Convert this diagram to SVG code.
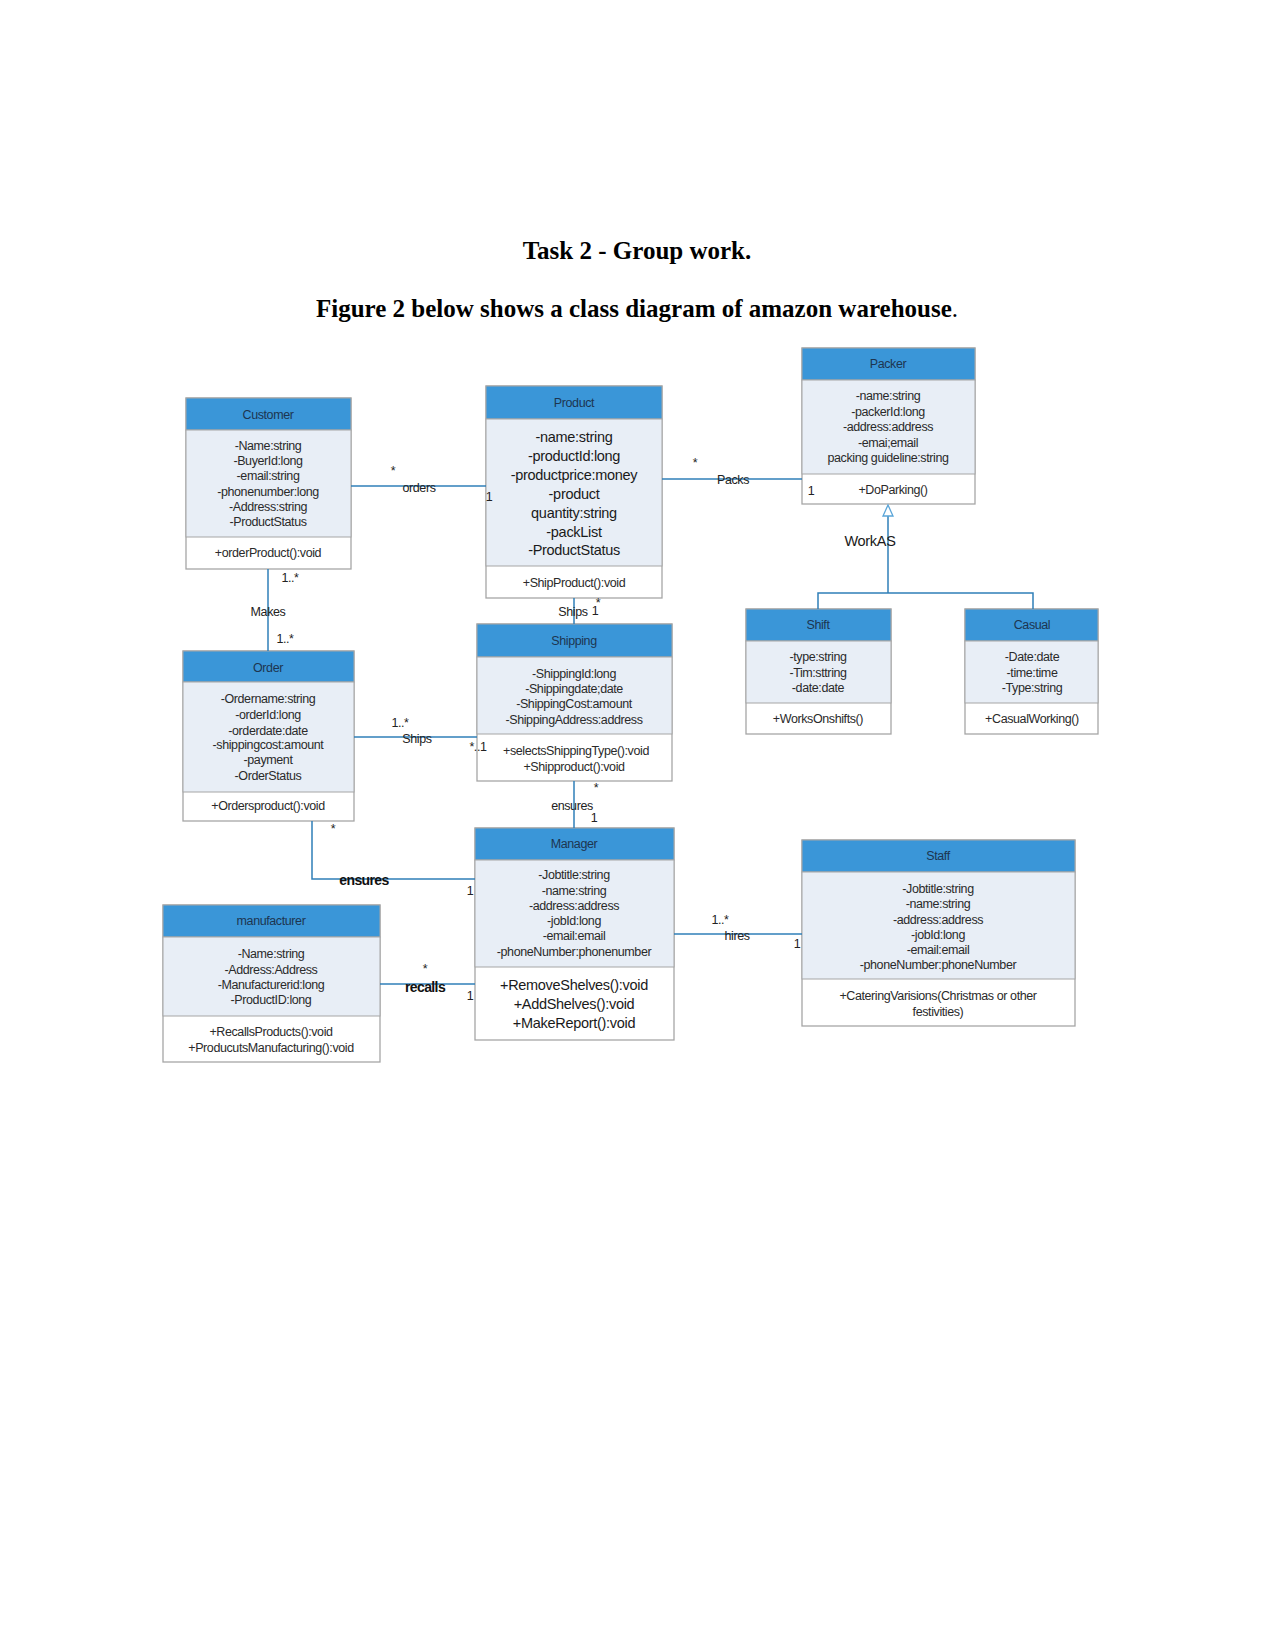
<svg xmlns="http://www.w3.org/2000/svg" width="1275" height="1651" viewBox="0 0 1275 1651">
<style>
.bg{fill:#ffffff}
.box{fill:#ffffff;stroke:#a6a6a6;stroke-width:1.3}
.hd{fill:#3a96d8;stroke:#a6a6a6;stroke-width:1}
.at{fill:#e8eef6;stroke:#a6a6a6;stroke-width:1}
.ht{font-family:"Liberation Sans",Arial,sans-serif;font-size:12.5px;fill:#1d3550;text-anchor:middle;letter-spacing:-0.4px}
.t{font-family:"Liberation Sans",Arial,sans-serif;font-size:12.5px;fill:#2a2a2a;text-anchor:middle;letter-spacing:-0.4px}
.tl{font-family:"Liberation Sans",Arial,sans-serif;font-size:14.5px;fill:#1a1a1a;text-anchor:middle;letter-spacing:-0.3px}
.ln{fill:none;stroke:#2f7fb8;stroke-width:1.5}
.lb{font-family:"Liberation Sans",Arial,sans-serif;font-size:12.5px;fill:#222222;text-anchor:middle;letter-spacing:-0.4px}
.lbb{font-family:"Liberation Sans",Arial,sans-serif;font-size:14px;fill:#111111;text-anchor:middle;font-weight:bold;letter-spacing:-0.6px}
.title{font-family:"Liberation Serif","Times New Roman",serif;font-size:25px;font-weight:bold;fill:#000000;text-anchor:middle}
</style>
<rect class="bg" x="0" y="0" width="1275" height="1651"/>
<g id="titles">
<text class="title" x="637" y="259">Task 2 - Group work.</text>
<text class="title" x="637" y="317">Figure 2 below shows a class diagram of amazon warehouse<tspan font-weight="normal">.</tspan></text>
</g>

<g id="customer">
<rect class="box" x="186" y="398" width="165" height="171"/>
<rect class="hd" x="186" y="398" width="165" height="32"/>
<rect class="at" x="186" y="430" width="165" height="107"/>
<text class="ht" x="268" y="419">Customer</text>
<text class="t" x="268" y="450">-Name:string</text>
<text class="t" x="268" y="465">-BuyerId:long</text>
<text class="t" x="268" y="480">-email:string</text>
<text class="t" x="268" y="496">-phonenumber:long</text>
<text class="t" x="268" y="511">-Address:string</text>
<text class="t" x="268" y="526">-ProductStatus</text>
<text class="t" x="268" y="557">+orderProduct():void</text>
</g>

<g id="product">
<rect class="box" x="486" y="386" width="176" height="212"/>
<rect class="hd" x="486" y="386" width="176" height="33"/>
<rect class="at" x="486" y="419" width="176" height="147"/>
<text class="ht" x="574" y="407">Product</text>
<text class="tl" x="574" y="442">-name:string</text>
<text class="tl" x="574" y="461">-productId:long</text>
<text class="tl" x="574" y="480">-productprice:money</text>
<text class="tl" x="574" y="499">-product</text>
<text class="tl" x="574" y="518">quantity:string</text>
<text class="tl" x="574" y="537">-packList</text>
<text class="tl" x="574" y="555">-ProductStatus</text>
<text class="t" x="574" y="587">+ShipProduct():void</text>
</g>

<g id="packer">
<rect class="box" x="802" y="348" width="173" height="156"/>
<rect class="hd" x="802" y="348" width="173" height="32"/>
<rect class="at" x="802" y="380" width="173" height="94"/>
<text class="ht" x="888" y="368">Packer</text>
<text class="t" x="888" y="400">-name:string</text>
<text class="t" x="888" y="416">-packerId:long</text>
<text class="t" x="888" y="431">-address:address</text>
<text class="t" x="888" y="447">-emai;email</text>
<text class="t" x="888" y="462">packing guideline:string</text>
<text class="t" x="893" y="494">+DoParking()</text>
</g>

<g id="shift">
<rect class="box" x="746" y="609" width="145" height="125"/>
<rect class="hd" x="746" y="609" width="145" height="32"/>
<rect class="at" x="746" y="641" width="145" height="62"/>
<text class="ht" x="818" y="629">Shift</text>
<text class="t" x="818" y="661">-type:string</text>
<text class="t" x="818" y="677">-Tim:sttring</text>
<text class="t" x="818" y="692">-date:date</text>
<text class="t" x="818" y="723">+WorksOnshifts()</text>
</g>

<g id="casual">
<rect class="box" x="965" y="609" width="133" height="125"/>
<rect class="hd" x="965" y="609" width="133" height="32"/>
<rect class="at" x="965" y="641" width="133" height="62"/>
<text class="ht" x="1032" y="629">Casual</text>
<text class="t" x="1032" y="661">-Date:date</text>
<text class="t" x="1032" y="677">-time:time</text>
<text class="t" x="1032" y="692">-Type:string</text>
<text class="t" x="1032" y="723">+CasualWorking()</text>
</g>

<g id="order">
<rect class="box" x="183" y="651" width="171" height="170"/>
<rect class="hd" x="183" y="651" width="171" height="31"/>
<rect class="at" x="183" y="682" width="171" height="110"/>
<text class="ht" x="268" y="672">Order</text>
<text class="t" x="268" y="703">-Ordername:string</text>
<text class="t" x="268" y="719">-orderId:long</text>
<text class="t" x="268" y="735">-orderdate:date</text>
<text class="t" x="268" y="749">-shippingcost:amount</text>
<text class="t" x="268" y="764">-payment</text>
<text class="t" x="268" y="780">-OrderStatus</text>
<text class="t" x="268" y="810">+Ordersproduct():void</text>
</g>

<g id="shipping">
<rect class="box" x="477" y="624" width="195" height="157"/>
<rect class="hd" x="477" y="624" width="195" height="33"/>
<rect class="at" x="477" y="657" width="195" height="77"/>
<text class="ht" x="574" y="645">Shipping</text>
<text class="t" x="574" y="678">-ShippingId:long</text>
<text class="t" x="574" y="693">-Shippingdate;date</text>
<text class="t" x="574" y="708">-ShippingCost:amount</text>
<text class="t" x="574" y="724">-ShippingAddress:address</text>
<text class="t" x="576" y="755">+selectsShippingType():void</text>
<text class="t" x="574" y="771">+Shipproduct():void</text>
</g>

<g id="manager">
<rect class="box" x="475" y="828" width="199" height="212"/>
<rect class="hd" x="475" y="828" width="199" height="32"/>
<rect class="at" x="475" y="860" width="199" height="107"/>
<text class="ht" x="574" y="848">Manager</text>
<text class="t" x="574" y="879">-Jobtitle:string</text>
<text class="t" x="574" y="895">-name:string</text>
<text class="t" x="574" y="910">-address:address</text>
<text class="t" x="574" y="925">-jobId:long</text>
<text class="t" x="574" y="940">-email:email</text>
<text class="t" x="574" y="956">-phoneNumber:phonenumber</text>
<text class="tl" x="574" y="990">+RemoveShelves():void</text>
<text class="tl" x="574" y="1009">+AddShelves():void</text>
<text class="tl" x="574" y="1028">+MakeReport():void</text>
</g>

<g id="manufacturer">
<rect class="box" x="163" y="905" width="217" height="157"/>
<rect class="hd" x="163" y="905" width="217" height="32"/>
<rect class="at" x="163" y="937" width="217" height="79"/>
<text class="ht" x="271" y="925">manufacturer</text>
<text class="t" x="271" y="958">-Name:string</text>
<text class="t" x="271" y="974">-Address:Address</text>
<text class="t" x="271" y="989">-Manufacturerid:long</text>
<text class="t" x="271" y="1004">-ProductID:long</text>
<text class="t" x="271" y="1036">+RecallsProducts():void</text>
<text class="t" x="271" y="1052">+ProducutsManufacturing():void</text>
</g>

<g id="staff">
<rect class="box" x="802" y="840" width="273" height="186"/>
<rect class="hd" x="802" y="840" width="273" height="32"/>
<rect class="at" x="802" y="872" width="273" height="107"/>
<text class="ht" x="938" y="860">Staff</text>
<text class="t" x="938" y="893">-Jobtitle:string</text>
<text class="t" x="938" y="908">-name:string</text>
<text class="t" x="938" y="924">-address:address</text>
<text class="t" x="938" y="939">-jobId:long</text>
<text class="t" x="938" y="954">-email:email</text>
<text class="t" x="938" y="969">-phoneNumber:phoneNumber</text>
<text class="t" x="938" y="1000">+CateringVarisions(Christmas or other</text>
<text class="t" x="938" y="1016">festivities)</text>
</g>

<g id="connectors">
<line class="ln" x1="351" y1="486" x2="486" y2="486"/>
<line class="ln" x1="662" y1="479" x2="802" y2="479"/>
<line class="ln" x1="268" y1="569" x2="268" y2="651"/>
<line class="ln" x1="574" y1="598" x2="574" y2="624"/>
<line class="ln" x1="354" y1="737" x2="477" y2="737"/>
<line class="ln" x1="574" y1="781" x2="574" y2="828"/>
<polyline class="ln" points="312,821 312,879 475,879"/>
<line class="ln" x1="380" y1="984" x2="475" y2="984"/>
<line class="ln" x1="674" y1="934" x2="802" y2="934"/>
<line class="ln" x1="888" y1="516" x2="888" y2="593"/>
<polyline class="ln" points="818,609 818,593 1033,593 1033,609"/>
<polygon points="888,505 883,516 893,516" fill="#ffffff" stroke="#5aa5d8" stroke-width="1.3"/>
<text class="lb" x="393" y="475">*</text>
<text class="lb" x="419" y="492">orders</text>
<text class="lb" x="489" y="501">1</text>
<text class="lb" x="695" y="467">*</text>
<text class="lb" x="733" y="484">Packs</text>
<text class="lb" x="811" y="495">1</text>
<text class="tl" x="870" y="546">WorkAS</text>
<text class="lb" x="290" y="582">1..*</text>
<text class="lb" x="268" y="616">Makes</text>
<text class="lb" x="285" y="643">1..*</text>
<text class="lb" x="573" y="616">Ships</text>
<text class="lb" x="595" y="615">1</text>
<text class="lb" x="598" y="607">*</text>
<text class="lb" x="400" y="727">1..*</text>
<text class="lb" x="417" y="743">Ships</text>
<text class="lb" x="478" y="751">*..1</text>
<text class="lb" x="596" y="792">*</text>
<text class="lb" x="572" y="810">ensures</text>
<text class="lb" x="594" y="822">1</text>
<text class="lb" x="333" y="833">*</text>
<text class="lbb" x="364" y="885">ensures</text>
<text class="lb" x="470" y="895">1</text>
<text class="lb" x="425" y="973">*</text>
<text class="lbb" x="425" y="992">recalls</text>
<text class="lb" x="470" y="1000">1</text>
<text class="lb" x="720" y="924">1..*</text>
<text class="lb" x="737" y="940">hires</text>
<text class="lb" x="797" y="948">1</text>
</g>
</svg>
